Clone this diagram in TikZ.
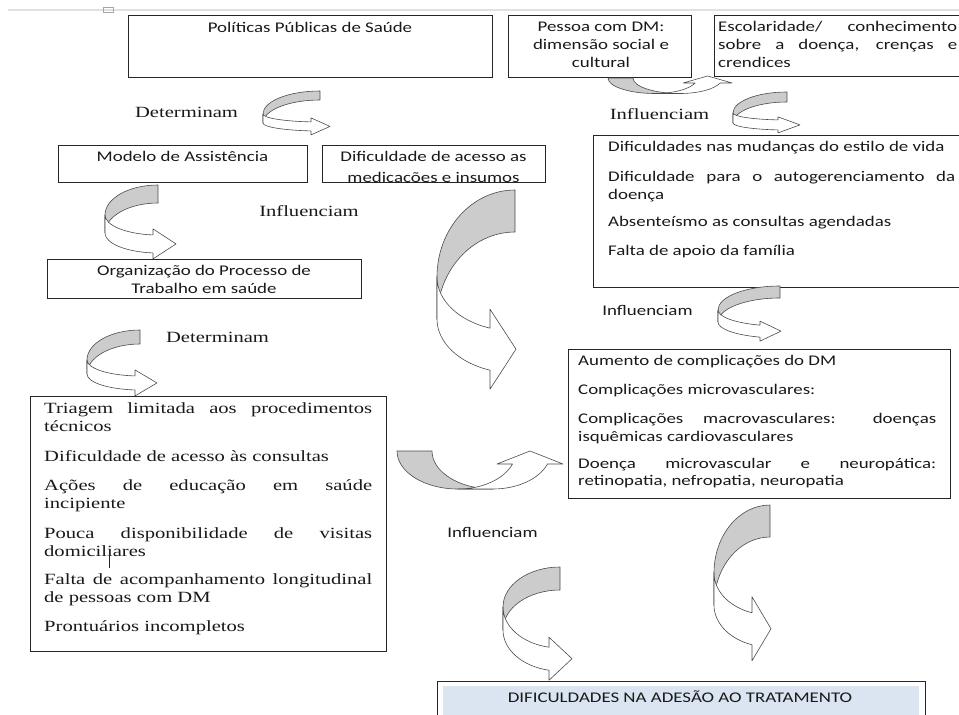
\documentclass[tikz,border=0pt]{standalone}
\usepackage{fontspec}
\setmainfont[FakeStretch=1.28]{Carlito}
\newfontfamily\tnr[FakeStretch=1.32]{Liberation Serif}
\definecolor{backgray}{RGB}{204,204,204}
\definecolor{titlefill}{RGB}{219,229,241}
\definecolor{rulegray}{RGB}{225,225,225}
\tikzset{
  box/.style={draw=black!85, line width=0.9pt, anchor=north west, inner sep=0pt},
  cal/.style={font=\fontsize{14.75}{18}\selectfont, inner sep=0pt, text=black!90},
  tim/.style={font=\tnr\fontsize{15.6}{18}\selectfont, inner sep=0pt, text=black!90},
  arrline/.style={draw=black!70, line width=0.6pt, line join=round},
}
% curved arrow: tail up-right, head pointing right
% #1 cx, #2 cy, #3 a, #4 b upper, #5 b lower, #6 thickness, #7 head base x, #8 head ext, #9 tip x
\newcommand\carR[9]{%
  \pgfmathsetmacro\cRphi{acos((#7-#1)/#3)}%
  \pgfmathsetmacro\cRyin{#2+#5*sin(\cRphi)}%
  \pgfmathsetmacro\cRyout{\cRyin+#6}%
  \pgfmathsetmacro\cRymid{(\cRyin+\cRyout)/2}%
  \draw[arrline, fill=backgray] (#1,#2-#4) arc[start angle=270, end angle=180, x radius=#3, y radius=#4]
     -- (#1-#3,#2+#6) arc[start angle=180, end angle=270, x radius=#3, y radius=#4] -- cycle;
  \draw[arrline, fill=white] (#1-#3,#2) arc[start angle=180, end angle=\cRphi, x radius=#3, y radius=#5]
     -- (#7,\cRyin-#8) -- (#9,\cRymid) -- (#7,\cRyout+#8) -- (#7,\cRyout)
     arc[start angle=\cRphi, end angle=180, x radius=#3, y radius=#5] -- cycle;
}
% curved arrow: tail at left top, head pointing up at right
% #1 cx, #2 cy, #3 a left, #4 a right, #5 b, #6 thickness, #7 head base y, #8 head ext, #9 tip y
\newcommand\carU[9]{%
  \pgfmathsetmacro\cUpsi{asin((#7-#2)/#5)}%
  \pgfmathsetmacro\cUxin{#1+#4*cos(\cUpsi)}%
  \pgfmathsetmacro\cUxout{\cUxin+#6}%
  \pgfmathsetmacro\cUxmid{(\cUxin+\cUxout)/2}%
  \draw[arrline, fill=backgray] (#1-#3,#2) arc[start angle=180, end angle=90, x radius=#3, y radius=#5]
     -- (#1+#6,#2+#5) arc[start angle=90, end angle=180, x radius=#3, y radius=#5] -- cycle;
  \draw[arrline, fill=white] (#1,#2+#5) arc[start angle=90, end angle=\cUpsi, x radius=#4, y radius=#5]
     -- (\cUxin-#8,#7) -- (\cUxmid,#9) -- (\cUxout+#8,#7) -- (\cUxout,#7)
     arc[start angle=\cUpsi, end angle=90, x radius=#4, y radius=#5] -- cycle;
}
\begin{document}
\begin{tikzpicture}[x=1pt,y=-1pt]
\useasboundingbox (0,0) rectangle (959,715);
\clip (0,0) rectangle (959,715);

% page ruler at top
\draw[rulegray, line width=2pt] (8,10) -- (959,10);
\draw[black!35, line width=0.6pt] (103,7) rectangle (113,12);

% ---------- boxes ----------
\node[box, minimum width=364pt, minimum height=62pt] (pol) at (128,15) {};
\node[box, minimum width=183pt, minimum height=62pt] (pes) at (508,15) {};
\node[box, minimum width=250pt, minimum height=61pt] (esc) at (714,15) {};
\node[box, minimum width=249pt, minimum height=37pt] (mod) at (58,145) {};
\node[box, minimum width=223pt, minimum height=37pt] (dif) at (322,145) {};
\node[box, minimum width=370pt, minimum height=152pt] (vida) at (593,135) {};
\node[box, minimum width=314pt, minimum height=39pt] (org) at (47,259) {};
\node[box, minimum width=356pt, minimum height=255pt] (tri) at (30,396) {};
\node[box, minimum width=382pt, minimum height=149pt] (aum) at (568,349) {};
\node[box, minimum width=488pt, minimum height=50pt] (fin) at (437,681) {};
\fill[titlefill] (443,686) rectangle (919,720);

% ---------- texts ----------
\node[cal, anchor=base] (polt) at (310,32) {Políticas Públicas de Saúde};

\node[cal, anchor=base] (pes1) at (601,31) {Pessoa com DM:};
\node[cal, anchor=base] (pes2) at (601,49) {dimensão social e};
\node[cal, anchor=base] (pes3) at (601,67) {cultural};

\node[cal, anchor=base west] (esc1) at (718,31) {\makebox[239pt][s]{Escolaridade/ \ conhecimento}};
\node[cal, anchor=base west] (esc2) at (718,49) {\makebox[239pt][s]{sobre a doença, crenças e}};
\node[cal, anchor=base west] (esc3) at (718,67) {crendices};

\node[cal, anchor=base] (modt) at (182.5,161) {Modelo de Assistência};

\begin{scope}
\clip (322,145) rectangle (545,182);
\node[cal, anchor=base] (dif1) at (433.5,161) {Dificuldade de acesso as};
\node[cal, anchor=base] (dif2) at (433.5,182.5) {medicações e insumos};
\end{scope}

\node[cal, anchor=base west] (vid1) at (608,151) {Dificuldades nas mudanças do estilo de vida};
\node[cal, anchor=base west] (vid2) at (608,181) {\makebox[347pt][s]{Dificuldade para o autogerenciamento da}};
\node[cal, anchor=base west] (vid3) at (608,199) {doença};
\node[cal, anchor=base west] (vid4) at (608,226) {Absenteísmo as consultas agendadas};
\node[cal, anchor=base west] (vid5) at (608,255) {Falta de apoio da família};

\node[cal, anchor=base] (org1) at (204,275) {Organização do Processo de};
\node[cal, anchor=base] (org2) at (204,293) {Trabalho em saúde};

\node[tim, anchor=base west] (tri1) at (44,413) {\makebox[328pt][s]{Triagem limitada aos procedimentos}};
\node[tim, anchor=base west] (tri2) at (44,431) {técnicos};
\node[tim, anchor=base west] (tri3) at (44,461) {Dificuldade de acesso às consultas};
\node[tim, anchor=base west] (tri4) at (44,490) {\makebox[328pt][s]{Ações de educação em saúde}};
\node[tim, anchor=base west] (tri5) at (44,508) {incipiente};
\node[tim, anchor=base west] (tri6) at (44,538) {\makebox[328pt][s]{Pouca disponibilidade de visitas}};
\node[tim, anchor=base west] (tri7) at (44,556) {domiciliares};
\node[tim, anchor=base west] (tri8) at (44,584) {\makebox[328pt][s]{Falta de acompanhamento longitudinal}};
\node[tim, anchor=base west] (tri9) at (44,602) {de pessoas com DM};
\node[tim, anchor=base west] (tri10) at (44,631) {Prontuários incompletos};
\draw[black!85, line width=0.8pt] (109,556) -- (109,568);

\node[cal, anchor=base west] (aum1) at (578,365) {Aumento de complicações do DM};
\node[cal, anchor=base west] (aum2) at (578,394) {Complicações microvasculares:};
\node[cal, anchor=base west] (aum3) at (578,423) {\makebox[358pt][s]{Complicações macrovasculares: doenças}};
\node[cal, anchor=base west] (aum4) at (578,441) {isquêmicas cardiovasculares};
\node[cal, anchor=base west] (aum5) at (578,468) {\makebox[358pt][s]{Doença microvascular e neuropática:}};
\node[cal, anchor=base west] (aum6) at (578,485) {retinopatia, nefropatia, neuropatia};

\node[cal, anchor=base] (fint) at (680,702) {DIFICULDADES NA ADESÃO AO TRATAMENTO};

% ---------- labels ----------
\node[tim, anchor=base] (det1) at (186.5,117) {Determinam};
\node[tim, anchor=base] (inf1) at (309,216) {Influenciam};
\node[tim, anchor=base] (det2) at (217.5,342) {Determinam};
\node[tim, anchor=base] (inf2) at (659.5,119) {Influenciam};
\node[cal, anchor=base] (inf3) at (647.5,315) {Influenciam};
\node[cal, anchor=base] (inf4) at (492.5,537) {Influenciam};

% ---------- curved arrows ----------
\carR{320}{114}{57}{23}{8}{9}{311}{4}{330}
\carR{158}{215}{53}{30}{20}{18}{153}{6}{176}
\carR{140}{360}{53}{30}{16}{14}{135}{6}{157}
\carR{787}{113}{54}{21}{7}{10}{778}{3}{800}
\carR{780}{310}{62}{24}{16}{12}{760}{4}{781}
\carR{515}{277}{78}{87}{54}{42}{490}{19}{516}
\carR{560}{607}{57}{40}{41}{23}{549}{10}{572}
\carR{770}{573}{56}{68}{42}{32}{752}{16}{771}
\carU{655}{78}{47}{42.4}{15.5}{25}{83}{12}{76}
\carU{458}{451}{61}{58}{38}{35}{464}{15.5}{451}
\end{tikzpicture}
\end{document}
